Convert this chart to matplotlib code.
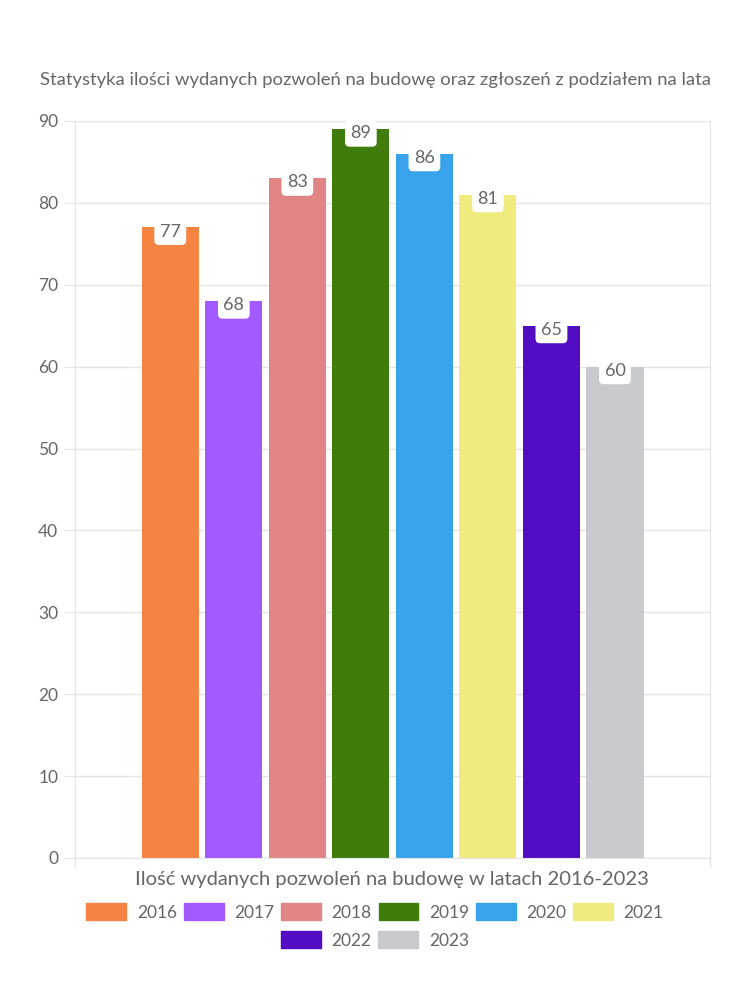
import numpy as np
import matplotlib.pyplot as plt
from matplotlib.patches import Patch

years = ["2016", "2017", "2018", "2019", "2020", "2021", "2022", "2023"]
counts = [77, 68, 83, 89, 86, 81, 65, 60]
colors = ["#F58442", "#A259FF", "#E08484", "#3F7C0C",
          "#38A3EB", "#F0EB7E", "#510CC4", "#C9CACE"]

title = "Statystyka ilości wydanych pozwoleń na budowę oraz zgłoszeń z podziałem na lata"
xlabel = "Ilość wydanych pozwoleń na budowę w latach 2016-2023"

plt.rcParams['font.family'] = ['Lato', 'DejaVu Sans']
txt = "#666666"
grid = "#E5E5E5"

fig = plt.figure(figsize=(7.5, 10), dpi=100)
ax = fig.add_axes([0.1, 0.142, 0.847, 0.737])

n = len(years)
slot = 0.8 / n
width = slot * 0.9
x = -0.4 + slot * (np.arange(n) + 0.5)

bars = ax.bar(x, counts, width, color=colors, zorder=2)

for b, v in zip(bars, counts):
    ax.text(b.get_x() + b.get_width() / 2, v - 0.5, str(v), ha='center', va='center',
            fontsize=13, color=txt, zorder=3,
            bbox=dict(boxstyle='round,pad=0.3,rounding_size=0.25', fc='white', ec='none'))

ax.set_xlim(-0.5, 0.5)
ax.set_ylim(0, 90)
ax.set_yticks(range(0, 91, 10))
ax.set_xticks([])
ax.yaxis.grid(True, color=grid, linewidth=1, zorder=0)
ax.spines['top'].set_visible(False)
for s in ['left', 'right', 'bottom']:
    ax.spines[s].set_color(grid)
ax.tick_params(axis='y', colors=grid, labelcolor=txt, labelsize=12.5, length=8, pad=4)
# small ticks below baseline at the plot edges
for xe in (-0.5, 0.5):
    ax.plot([xe, xe], [0, -1.0], color=grid, lw=1, clip_on=False)

fig.text(0.5, 0.92, title, ha='center', va='center', fontsize=13.3, color=txt)
fig.text(0.523, 0.121, xlabel, ha='center', va='center', fontsize=14.5, color=txt)

handles = [Patch(color=c, label=y) for c, y in zip(colors, years)]
kw = dict(frameon=False, fontsize=12.5, handlelength=2.3, handleheight=1.1,
          handletextpad=0.6, columnspacing=0.4, labelcolor=txt)
fig.legend(handles=handles[:6], loc='center', bbox_to_anchor=(0.5, 0.088), ncol=6, **kw)
fig.legend(handles=handles[6:], loc='center', bbox_to_anchor=(0.5, 0.06), ncol=2, **kw)

fig.savefig("out.png", dpi=100, facecolor='white')
